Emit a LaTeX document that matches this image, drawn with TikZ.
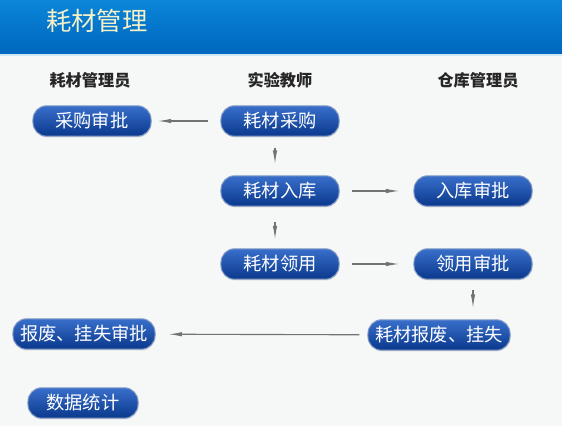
\documentclass[tikz,border=0pt]{standalone}
\usepackage{fontspec}
\usepackage{xcolor}
\usepackage{tikz}
\usetikzlibrary{arrows.meta,positioning,shadows}
\newfontfamily\cjk{Noto Sans CJK SC}
\definecolor{bandtop}{HTML}{0A86D8}
\definecolor{bandbot}{HTML}{0066BE}
\definecolor{boxtop}{HTML}{386FCB}
\definecolor{boxbot}{HTML}{0A388C}
\definecolor{pagebg}{HTML}{F6F7F7}
\definecolor{titletxt}{HTML}{F4F0C8}
\begin{document}
\begin{tikzpicture}[x=0.025cm,y=-0.025cm,
  task/.style={rectangle,rounded corners=0.34cm,draw=white!50!boxbot,line width=0.7pt,
               top color=boxtop,bottom color=boxbot,text=white,
               minimum width=2.95cm,minimum height=0.76cm,
               font=\cjk\fontsize{13}{15}\selectfont,
               drop shadow={shadow xshift=0.3pt,shadow yshift=-0.8pt,opacity=0.25}},
  role/.style={font=\cjk\bfseries\fontsize{11.5}{13}\selectfont,text=black!85},
  edge/.style={-{Latex[length=3.4mm,width=1.1mm]},draw=black!55,line width=0.8pt}]
% page and header band
\fill[pagebg] (0,0) rectangle (562,426);
\useasboundingbox (0,0) rectangle (562,426);
\shade[top color=bandtop,bottom color=bandbot] (0,0) rectangle (562,54);
\fill[white!80!bandtop] (0,54) rectangle (562,56);
\node[font=\cjk\fontsize{18}{20}\selectfont,text=titletxt] (title) at (97,21) {耗材管理};
% roles
\node[role] (admin) at (90,80) {耗材管理员};
\node[role] (teacher) at (280,80) {实验教师};
\node[role] (keeper) at (478,80) {仓库管理员};
% tasks
\node[task] (buyok) at (92,121) {采购审批};
\node[task] (buy) at (280,121) {耗材采购};
\node[task] (stock) at (280,191) {耗材入库};
\node[task] (stockok) at (473,191) {入库审批};
\node[task] (use) at (280,264) {耗材领用};
\node[task] (useok) at (473,264) {领用审批};
\node[task,minimum width=3.55cm] (lossok) at (84,334) {报废、挂失审批};
\node[task,minimum width=3.55cm] (loss) at (439,335) {耗材报废、挂失};
\node[task,minimum width=2.75cm] (stats) at (83,403) {数据统计};
% flow
\draw[edge,shorten <=0.3cm,shorten >=0.15cm] (buy) -- (buyok);
\draw[edge,shorten <=0.28cm,shorten >=0.28cm] ([xshift=-5*0.025cm]buy.south) -- ([xshift=-5*0.025cm]stock.north);
\draw[edge,shorten <=0.3cm,shorten >=0.35cm] (stock) -- (stockok);
\draw[edge,shorten <=0.38cm,shorten >=0.22cm] ([xshift=-5*0.025cm]stock.south) -- ([xshift=-5*0.025cm]use.north);
\draw[edge,shorten <=0.3cm,shorten >=0.35cm] (use) -- (useok);
\draw[edge,shorten <=0.25cm,shorten >=0.28cm] (useok.south) -- (useok.south |- loss.north);
\draw[edge,shorten <=0.2cm,shorten >=0.32cm] (loss) -- (lossok);
\end{tikzpicture}
\end{document}
